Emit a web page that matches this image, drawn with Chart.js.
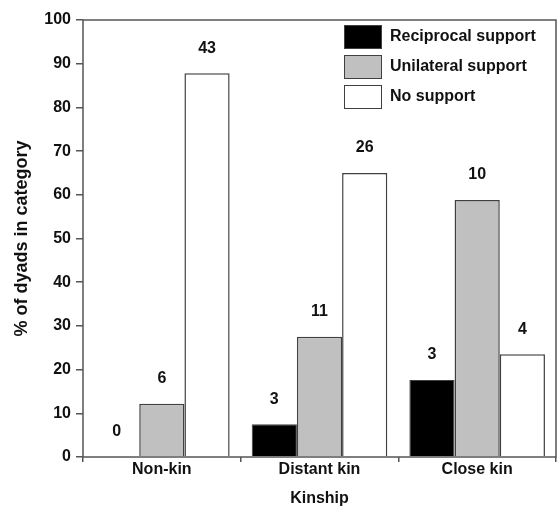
<!DOCTYPE html>
<html lang="en">
<head>
    <meta charset="UTF-8">
    <title>Support by kinship</title>
    <script src="https://cdn.jsdelivr.net/npm/chart.js"></script>
    <style>
        body {
            margin: 0;
            background-color: #ffffff;
        }
        #wrap {
            width: 557px;
            height: 508px;
        }
    </style>
</head>
<body>

    <div id="wrap"><canvas id="kinChart"></canvas></div>

    <script>
        const categories = ["Non-kin", "Distant kin", "Close kin"];

        // % of dyads in each category
        const reciprocal = [0, 7.5, 17.6];
        const unilateral = [12.2, 27.5, 58.8];
        const noSupport = [87.8, 65, 23.5];

        // number of dyads printed above the bars
        const reciprocalN = [0, 3, 3];
        const unilateralN = [6, 11, 10];
        const noSupportN = [43, 26, 4];

        const yTicks = [0, 10, 20, 30, 40, 50, 60, 70, 80, 90, 100];

        const FONT = "Arial, 'Liberation Sans', sans-serif";
        const frameColor = '#555555';
        const textColor = '#111111';

        // counts above bars + legend inside the plot + box around the plot
        const extrasPlugin = {
            id: 'extras',
            afterDatasetsDraw(chart) {
                const ctx = chart.ctx;
                ctx.save();
                ctx.font = 'bold 16px ' + FONT;
                ctx.fillStyle = textColor;
                ctx.textAlign = 'center';
                ctx.textBaseline = 'middle';
                chart.data.datasets.forEach((ds, i) => {
                    chart.getDatasetMeta(i).data.forEach((bar, j) => {
                        ctx.fillText(String(ds.counts[j]), bar.x, bar.y - 25);
                    });
                });
                ctx.restore();
            },
            afterDraw(chart) {
                const ctx = chart.ctx;
                const a = chart.chartArea;
                ctx.save();
                ctx.strokeStyle = frameColor;
                ctx.lineWidth = 1.5;
                ctx.strokeRect(a.left, a.top, a.right - a.left, a.bottom - a.top);

                // legend
                ctx.font = 'bold 16px ' + FONT;
                ctx.textAlign = 'left';
                ctx.textBaseline = 'middle';
                chart.data.datasets.forEach((ds, i) => {
                    const top = 25 + i * 30;
                    ctx.fillStyle = ds.backgroundColor;
                    ctx.fillRect(344, top, 38, 24);
                    ctx.lineWidth = 1;
                    ctx.strokeStyle = '#404040';
                    ctx.strokeRect(344.5, top + 0.5, 37, 23);
                    ctx.fillStyle = textColor;
                    ctx.fillText(ds.label, 390, top + 12);
                });
                ctx.restore();
            }
        };

        const ctx = document.getElementById('kinChart').getContext('2d');
        const kinChart = new Chart(ctx, {
            type: 'bar',
            data: {
                labels: categories,
                datasets: [{
                    label: 'Reciprocal support',
                    data: reciprocal,
                    counts: reciprocalN,
                    backgroundColor: '#000000',
                    borderColor: '#404040',
                    borderWidth: 1
                }, {
                    label: 'Unilateral support',
                    data: unilateral,
                    counts: unilateralN,
                    backgroundColor: '#c0c0c0',
                    borderColor: '#404040',
                    borderWidth: 1.5
                }, {
                    label: 'No support',
                    data: noSupport,
                    counts: noSupportN,
                    backgroundColor: '#ffffff',
                    borderColor: '#404040',
                    borderWidth: 1.5
                }]
            },
            options: {
                responsive: true,
                maintainAspectRatio: false,
                animation: false,
                layout: {
                    padding: { top: 20, right: 1, left: 0, bottom: 0 }
                },
                datasets: {
                    bar: {
                        categoryPercentage: 0.86,
                        barPercentage: 1.0
                    }
                },
                plugins: {
                    legend: { display: false },
                    tooltip: { enabled: false }
                },
                scales: {
                    x: {
                        border: { display: false },
                        grid: {
                            drawOnChartArea: false,
                            drawTicks: true,
                            tickLength: 5,
                            color: frameColor,
                            lineWidth: 1.5
                        },
                        ticks: {
                            color: textColor,
                            padding: 0,
                            font: { family: FONT, size: 16, weight: 'bold', lineHeight: 1.0 }
                        },
                        title: {
                            display: true,
                            text: 'Kinship',
                            color: textColor,
                            padding: { top: 0, bottom: 0 },
                            font: { family: FONT, size: 16, weight: 'bold' }
                        },
                        afterFit(scale) {
                            scale.height = 51;
                        }
                    },
                    y: {
                        min: 0,
                        max: 100,
                        border: { display: false },
                        grid: {
                            drawOnChartArea: false,
                            drawTicks: true,
                            tickLength: 7,
                            color: frameColor,
                            lineWidth: 1.5
                        },
                        afterBuildTicks(scale) {
                            scale.ticks = yTicks.map(v => ({ value: v }));
                        },
                        ticks: {
                            color: textColor,
                            padding: 5,
                            font: { family: FONT, size: 16, weight: 'bold' }
                        },
                        title: {
                            display: true,
                            text: '% of dyads in category',
                            color: textColor,
                            padding: { top: 11, bottom: 0 },
                            font: { family: FONT, size: 18, weight: 'bold' }
                        },
                        afterFit(scale) {
                            scale.width = 83;
                        }
                    }
                }
            },
            plugins: [extrasPlugin]
        });
    </script>

</body>
</html>
